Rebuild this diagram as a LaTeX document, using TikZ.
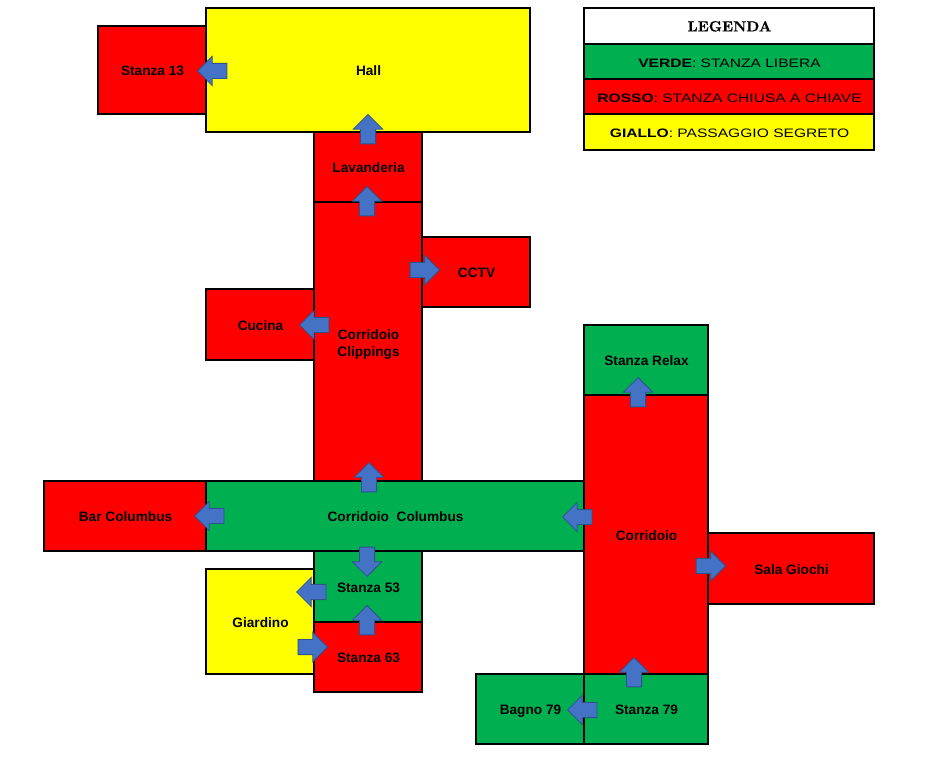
\documentclass[tikz,border=0pt]{standalone}
\usepackage{fontspec}
\setmainfont{Liberation Sans}
\newfontfamily\legendhead[BoldFeatures={FakeBold=0.5}]{Latin Modern Roman}
\newfontfamily\legendbody[FakeStretch=1.27]{Liberation Sans}
\usetikzlibrary{shapes.arrows}
\definecolor{roomred}{HTML}{FF0000}
\definecolor{roomgreen}{HTML}{00B050}
\definecolor{roomyellow}{HTML}{FFFF00}
\definecolor{arrowfill}{HTML}{4472C4}
\definecolor{arrowline}{HTML}{2F528F}
\tikzset{
  x=0.75pt,y=-0.75pt,
  room/.style={draw=black,line width=1.5pt,inner sep=0pt},
  roomlabel/.style={inner sep=0pt,align=center,anchor=base,xshift=0.4pt,yshift=-4.35pt,text=black,font=\fontsize{10.25}{12.6}\selectfont\bfseries},
  twolines/.style={anchor=center,yshift=2.25pt},
  legendtext/.style={font=\fontsize{9.2}{11}\legendbody},
  legendtitle/.style={font=\fontsize{11}{13}\legendhead\bfseries,yshift=0.3pt},
  door/.style={single arrow,draw=arrowline,line width=0.6pt,fill=arrowfill,
    inner xsep=0pt,inner ysep=5.4pt,minimum height=22pt,single arrow head extend=5.3pt,
    single arrow tip angle=90,single arrow head indent=0pt,anchor=tip}
}
% [label style], name, x1, y1, x2, y2, fill, text
\newcommand{\roombox}[8][]{%
  \pgfmathsetlengthmacro{\rw}{(#5-#3)*0.75pt}%
  \pgfmathsetlengthmacro{\rh}{(#6-#4)*0.75pt}%
  \node[room,fill=#7,minimum width=\rw,minimum height=\rh] (#2) at ({(#3+#5)/2},{(#4+#6)/2}) {};
  \node[roomlabel,#1] (#2-text) at (#2.center) {#8};}
% name, tip x, tip y, direction angle
\newcommand{\doorarrow}[4]{\node[door,rotate=#4] (#1) at (#2,#3) {};}
\begin{document}
\begin{tikzpicture}
\useasboundingbox (0,0) rectangle (936,766);
% rooms
\roombox{stanza13}{98}{26}{206}{114}{roomred}{Stanza 13}
\roombox{hall}{206}{8}{530}{132}{roomyellow}{Hall}
\roombox{lavanderia}{314}{132}{422}{202}{roomred}{Lavanderia}
\roombox[twolines]{clippings}{314}{202}{422}{481}{roomred}{Corridoio\\Clippings}
\roombox{cctv}{422}{237}{530}{307}{roomred}{CCTV}
\roombox{cucina}{206}{289}{314}{360}{roomred}{Cucina}
\roombox{bar}{44}{481}{206}{551}{roomred}{Bar Columbus}
\roombox{columbus}{206}{481}{584}{551}{roomgreen}{Corridoio\ \ Columbus}
\roombox{giardino}{206}{569}{314}{674}{roomyellow}{Giardino}
\roombox{stanza53}{314}{551}{422}{622}{roomgreen}{Stanza 53}
\roombox{stanza63}{314}{622}{422}{692}{roomred}{Stanza 63}
\roombox{relax}{584}{325}{708}{395}{roomgreen}{Stanza Relax}
\roombox{corridoio}{584}{395}{708}{674}{roomred}{Corridoio}
\roombox{sala}{708}{533}{874}{604}{roomred}{Sala Giochi}
\roombox{bagno}{476}{674}{584}{744}{roomgreen}{Bagno 79}
\roombox{stanza79}{584}{674}{708}{744}{roomgreen}{Stanza 79}
% legend
\roombox[legendtitle]{leghead}{584}{8}{874}{44}{white}{LEGENDA}
\roombox[legendtext]{leggreen}{584}{44}{874}{79}{roomgreen}{\textbf{VERDE}: STANZA LIBERA}
\roombox[legendtext]{legred}{584}{79}{874}{114}{roomred}{\textbf{ROSSO}: STANZA CHIUSA A CHIAVE}
\roombox[legendtext]{legyellow}{584}{114}{874}{150}{roomyellow}{\textbf{GIALLO}: PASSAGGIO SEGRETO}
% door arrows
\doorarrow{a13}{197}{71}{180}
\doorarrow{ahall}{368}{114}{90}
\doorarrow{alav}{367}{186}{90}
\doorarrow{acctv}{440}{270}{0}
\doorarrow{acuc}{299}{325}{180}
\doorarrow{aclip}{369}{462}{90}
\doorarrow{abar}{194}{516}{180}
\doorarrow{acol}{562}{517}{180}
\doorarrow{arel}{638}{377}{90}
\doorarrow{asala}{726}{566}{0}
\doorarrow{acor}{634}{657}{90}
\doorarrow{abag}{567}{710}{180}
\doorarrow{a53d}{367}{577}{-90}
\doorarrow{a53l}{296}{592}{180}
\doorarrow{a63u}{367}{605}{90}
\doorarrow{agia}{328}{647}{0}
\end{tikzpicture}
\end{document}
